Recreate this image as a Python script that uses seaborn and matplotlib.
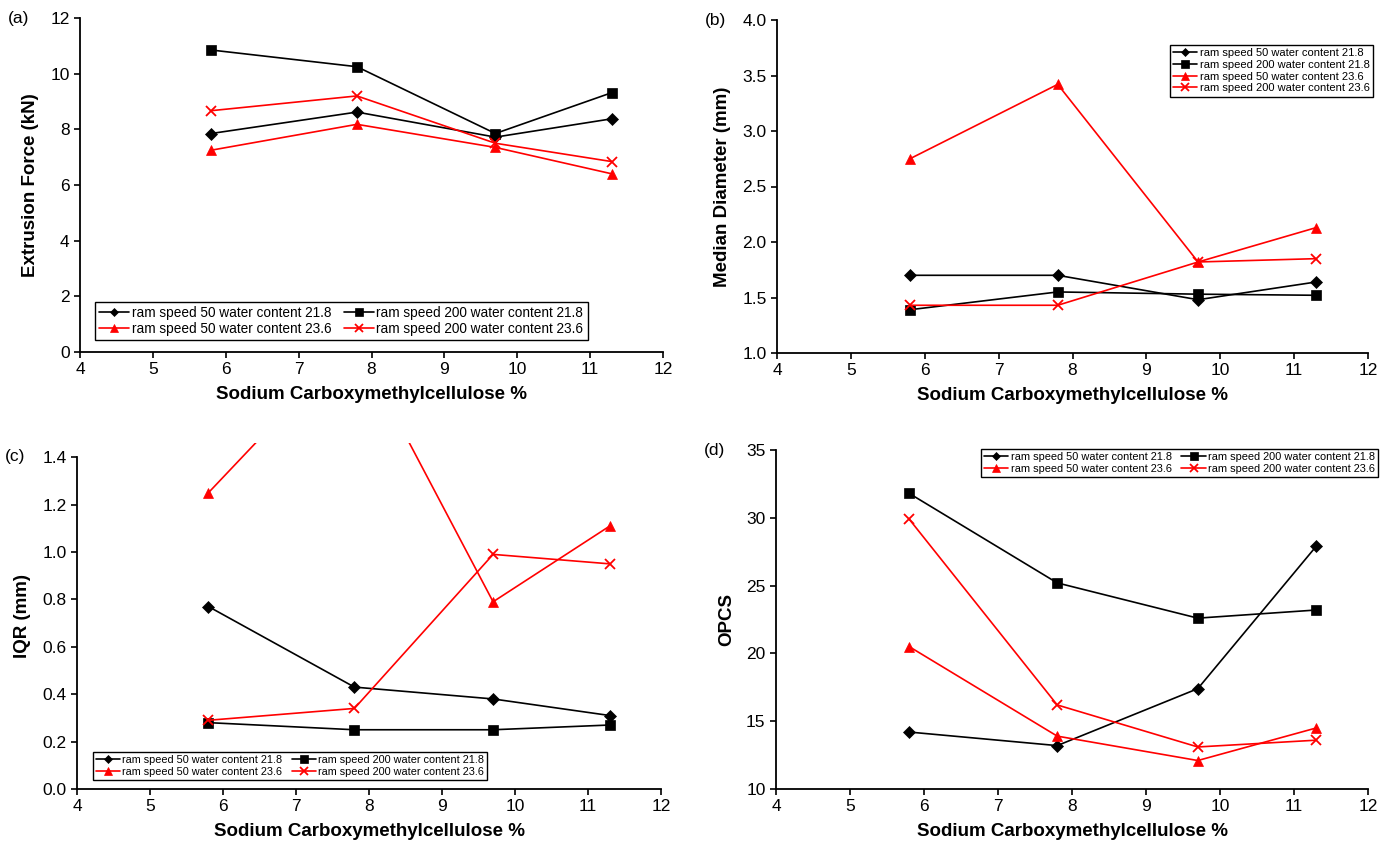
import numpy as np
import pandas as pd
import seaborn as sns
import matplotlib
matplotlib.use("Agg")
import matplotlib.pyplot as plt
from matplotlib.ticker import FormatStrFormatter

sns.set_theme(style="white")
plt.rcParams['font.family'] = ['Liberation Sans', 'DejaVu Sans']
plt.rcParams['text.color'] = 'black'
plt.rcParams['axes.labelcolor'] = 'black'
plt.rcParams['xtick.color'] = 'black'
plt.rcParams['ytick.color'] = 'black'

# ---------------- data ----------------
cmc = [5.8, 7.8, 9.7, 11.3]
series_names = ["ram speed 50 water content 21.8",
                "ram speed 200 water content 21.8",
                "ram speed 50 water content 23.6",
                "ram speed 200 water content 23.6"]

force_50_218 = [7.85, 8.62, 7.72, 8.38]
force_200_218 = [10.85, 10.25, 7.85, 9.32]
force_50_236 = [7.25, 8.18, 7.35, 6.40]
force_200_236 = [8.67, 9.20, 7.50, 6.84]

diam_50_218 = [1.70, 1.70, 1.48, 1.64]
diam_200_218 = [1.39, 1.55, 1.53, 1.52]
diam_50_236 = [2.75, 3.42, 1.82, 2.13]
diam_200_236 = [1.43, 1.43, 1.82, 1.85]

iqr_50_218 = [0.77, 0.43, 0.38, 0.31]
iqr_200_218 = [0.28, 0.25, 0.25, 0.27]
iqr_50_236 = [1.25, 1.90, 0.79, 1.11]
iqr_200_236 = [0.29, 0.34, 0.99, 0.95]

opcs_50_218 = [14.2, 13.2, 17.4, 27.9]
opcs_200_218 = [31.8, 25.2, 22.6, 23.2]
opcs_50_236 = [20.5, 13.9, 12.1, 14.5]
opcs_200_236 = [29.9, 16.2, 13.1, 13.6]

x_ticks = [4, 5, 6, 7, 8, 9, 10, 11, 12]
xlabel = "Sodium Carboxymethylcellulose %"

styles = [("black", "D", 6), ("black", "s", 7), ("red", "^", 7.5), ("red", "x", 7.5)]

W, H = 1393, 844
fig = plt.figure(figsize=(W / 100, H / 100), dpi=100)


def px_axes(l, r, t, b):
    return fig.add_axes([l / W, 1 - b / H, (r - l) / W, (b - t) / H])


panels = [
    dict(rect=(80, 663, 18, 352), data=[force_50_218, force_200_218, force_50_236, force_200_236],
         ylim=(0, 12), yticks=np.arange(0, 12.1, 2), fmt="%d", ylabel="Extrusion Force (kN)", tag="(a)",
         leg=dict(loc="lower left", bbox_to_anchor=(0.026, 0.036), ncol=2, fontsize=9.8)),
    dict(rect=(777, 1368, 20, 353), data=[diam_50_218, diam_200_218, diam_50_236, diam_200_236],
         ylim=(1.0, 4.0), yticks=np.arange(1.0, 4.01, 0.5), fmt="%.1f", ylabel="Median Diameter (mm)", tag="(b)",
         leg=dict(loc="upper right", bbox_to_anchor=(1.008, 0.925), ncol=1, fontsize=8.0)),
    dict(rect=(77, 661, 443, 789), data=[iqr_50_218, iqr_200_218, iqr_50_236, iqr_200_236],
         ylim=(0, 1.46), yticks=np.arange(0, 1.41, 0.2), fmt="%.1f", ylabel="IQR (mm)", tag="(c)",
         spine_top=1.4,
         leg=dict(loc="lower left", bbox_to_anchor=(0.027, 0.026), ncol=2, fontsize=7.8)),
    dict(rect=(776, 1368, 450, 789), data=[opcs_50_218, opcs_200_218, opcs_50_236, opcs_200_236],
         ylim=(10, 35), yticks=np.arange(10, 35.1, 5), fmt="%d", ylabel="OPCS", tag="(d)",
         leg=dict(loc="upper right", bbox_to_anchor=(1.017, 1.003), ncol=2, fontsize=7.9)),
]

for p in panels:
    ax = px_axes(*p["rect"])
    for vals, name, (c, m, ms) in zip(p["data"], series_names, styles):
        df = pd.DataFrame({"x": cmc, "y": vals})
        sns.lineplot(data=df, x="x", y="y", ax=ax, color=c, marker=m, markersize=ms,
                     markeredgecolor=c, markerfacecolor=c, markeredgewidth=1.3 if m == "x" else 0.5,
                     linewidth=1.2, label=name)
    ax.set_xlim(4, 12)
    ax.set_ylim(*p["ylim"])
    ax.set_xticks(x_ticks)
    ax.set_yticks(p["yticks"])
    ax.yaxis.set_major_formatter(FormatStrFormatter(p["fmt"]))
    for s in ["top", "right"]:
        ax.spines[s].set_visible(False)
    for s in ["left", "bottom"]:
        ax.spines[s].set_color("black")
        ax.spines[s].set_linewidth(1.3)
    if "spine_top" in p:
        ax.spines["left"].set_bounds(p["ylim"][0], p["spine_top"])
    ax.tick_params(axis="both", direction="out", length=4, width=1.2, colors="black",
                   labelsize=12.5, left=True, bottom=True)
    ax.set_xlabel(xlabel, fontsize=13.5, fontweight="bold", labelpad=6)
    ax.set_ylabel(p["ylabel"], fontsize=13.5, fontweight="bold", labelpad=8)
    handles, labels = ax.get_legend_handles_labels()
    if p["leg"]["ncol"] == 2:
        order = [0, 2, 1, 3]  # row-wise filling like the original
        handles = [handles[i] for i in order]
        labels = [labels[i] for i in order]
    leg = ax.legend(handles, labels, frameon=True, fancybox=False, framealpha=1, edgecolor="black",
                    handlelength=2.2, handletextpad=0.2, columnspacing=0.9, borderpad=0.3,
                    labelspacing=0.15, borderaxespad=0, markerscale=0.75, **p["leg"])
    leg.get_frame().set_linewidth(1.0)
    l, r, t, b = p["rect"]
    fig.text((l - 72) / W, 1 - (t if p["tag"] != "(c)" else t + 14) / H, p["tag"],
             fontsize=12.5, ha="left", va="center")

fig.savefig("out.png", dpi=100)
